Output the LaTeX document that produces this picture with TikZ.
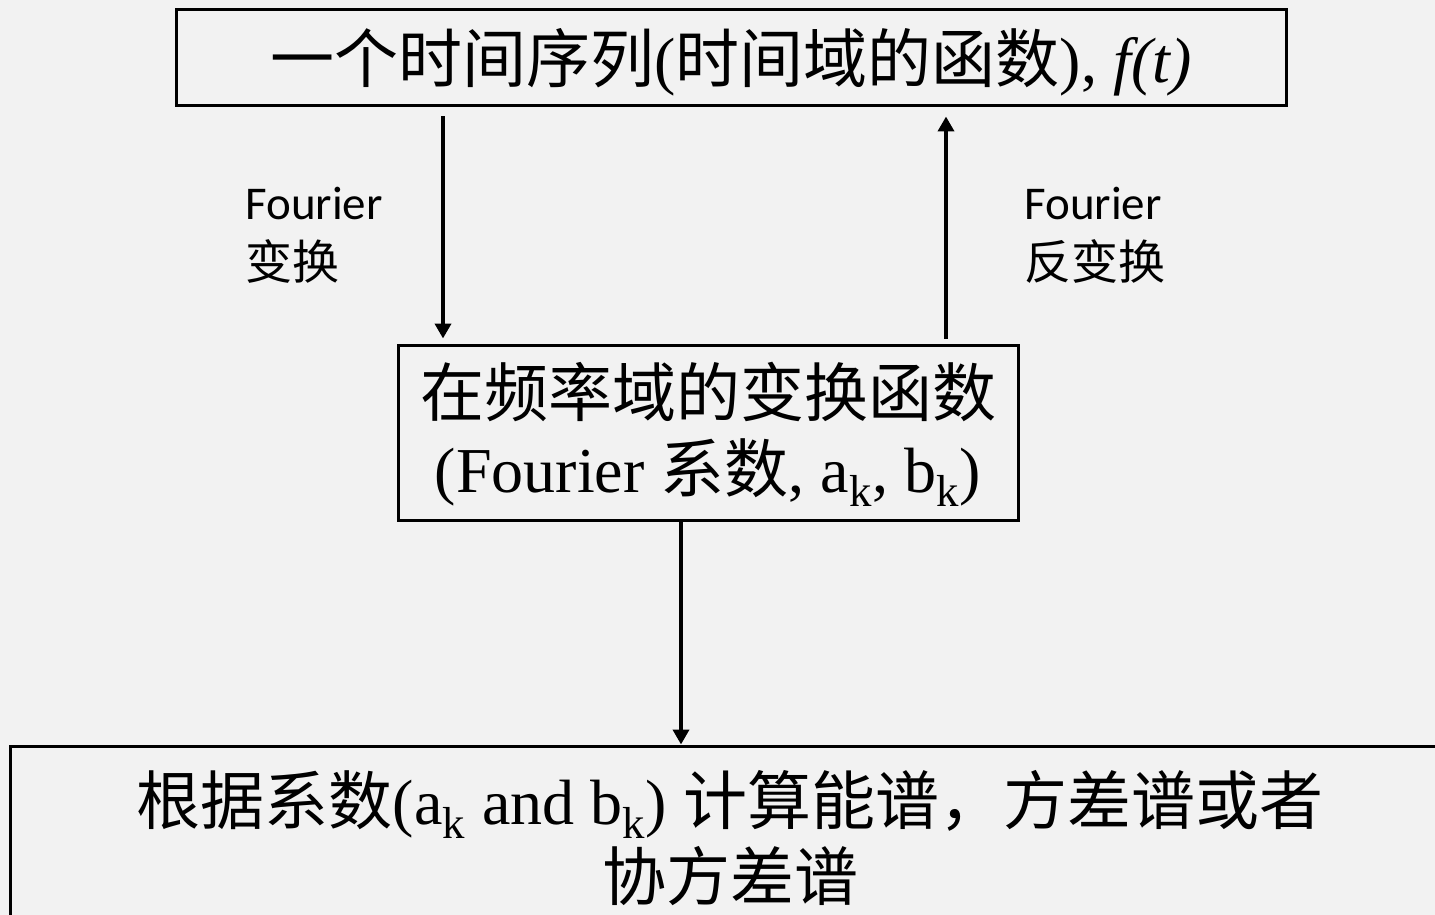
\documentclass[tikz,border=0pt]{standalone}
\usepackage{fontspec}
\setmainfont{Liberation Serif}
\newfontfamily\cjk{Noto Sans CJK SC}
\newfontfamily\labfont{Carlito}
\usetikzlibrary{arrows.meta}
\definecolor{bg}{HTML}{F2F2F2}
\begin{document}
\begin{tikzpicture}[x=0.5pt,y=-0.5pt,
  box/.style={draw=black,line width=1.5pt,fill=bg,inner sep=0pt,align=center},
  big/.style={font=\fontsize{32}{38}\selectfont},
  lab/.style={font=\fontsize{23.5}{30}\selectfont\labfont,anchor=west,align=left,inner sep=0pt},
  arr/.style={line width=2pt,-{Triangle[width=8pt,length=7.5pt]}}]
\fill[bg] (0,0) rectangle (1435,915);
\useasboundingbox (0,0) rectangle (1435,915);
\clip (0,0) rectangle (1435,915);
\node[box,minimum width=555pt,minimum height=48pt] (top) at (731,58) {};
\node[big,inner sep=0pt] (toptext) at (731,62)
  {{\cjk 一个时间序列}({\cjk 时间域的函数}), \textit{f(t)}};
\node[box,minimum width=310pt,minimum height=87.5pt] (mid) at (708,432.5) {};
\node[big,align=center,inner sep=0pt] (midtext) at (708,434)
  {{\cjk 在频率域的变换函数}\\(Fourier {\cjk 系数}, a\textsubscript{k}, b\textsubscript{k})};
\node[box,minimum width=720pt,minimum height=100pt] (bot) at (730,846) {};
\node[big,align=center,inner sep=0pt] (bottext) at (730,838)
  {{\cjk 根据系数}(a\textsubscript{k} and b\textsubscript{k}) {\cjk 计算能谱，方差谱或者}\\{\cjk 协方差谱}};
\node[lab] (l1) at (245,235) {Fourier\\{\cjk 变换}};
\node[lab] (l2) at (1024,235) {Fourier\\{\cjk 反变换}};
\coordinate (ax1) at (443,0);
\coordinate (ax2) at (946,0);
\coordinate (ax3) at (681,0);
\draw[arr] ([yshift=-4.5pt]top.south -| ax1) -- ([yshift=2.5pt]mid.north -| ax1);
\draw[arr] ([yshift=2.5pt]mid.north -| ax2) -- ([yshift=-4.5pt]top.south -| ax2);
\draw[arr] (mid.south -| ax3) -- (bot.north -| ax3);
\end{tikzpicture}
\end{document}
